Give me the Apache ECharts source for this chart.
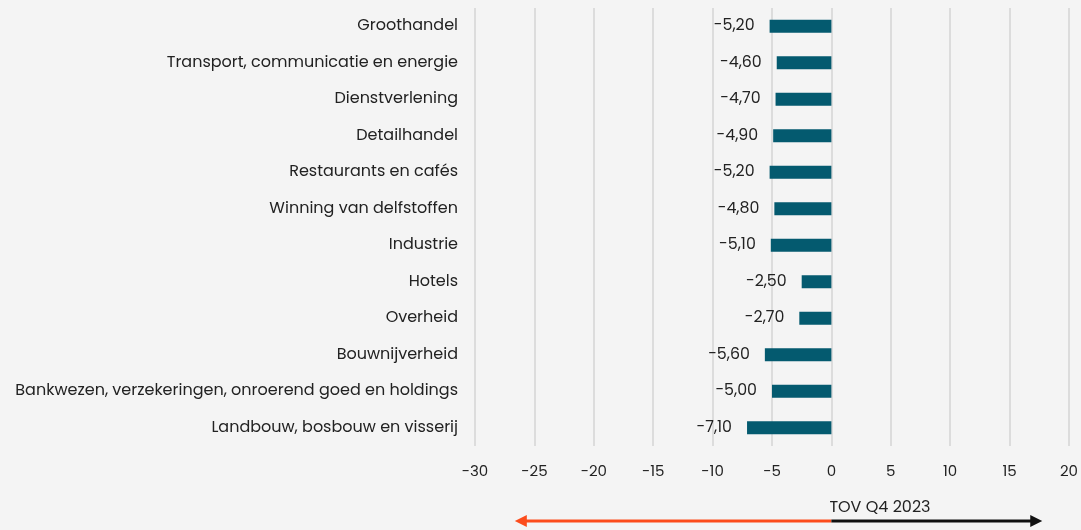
<!DOCTYPE html>
<html><head><meta charset="utf-8">
<script src="https://cdn.jsdelivr.net/npm/echarts@6/dist/echarts.min.js"></script>
<style>html,body{margin:0;padding:0;background:#f4f4f4;}#c{width:1081px;height:530px;}</style>
</head><body><div id="c"></div>
<script>
var categories = ["Groothandel","Transport, communicatie en energie","Dienstverlening","Detailhandel","Restaurants en cafés","Winning van delfstoffen","Industrie","Hotels","Overheid","Bouwnijverheid","Bankwezen, verzekeringen, onroerend goed en holdings","Landbouw, bosbouw en visserij"];
var values = [-5.2,-4.6,-4.7,-4.9,-5.2,-4.8,-5.1,-2.5,-2.7,-5.6,-5.0,-7.1];
var xTicks = [-30,-25,-20,-15,-10,-5,0,5,10,15,20];
var arrowLabel = "TOV Q4 2023";
var arrowRange = [-26.65, 0, 17.75];

var FONT = "Poppins, 'Noto Sans', sans-serif";
var chart = echarts.init(document.getElementById('c'));
chart.setOption({
  backgroundColor: '#f4f4f4',
  animation: false,
  grid: {left: 475, right: 9, top: 8, bottom: 84, containLabel: false},
  xAxis: {
    type: 'value', min: xTicks[0], max: xTicks[xTicks.length-1], interval: 5,
    axisLine: {show: false}, axisTick: {show: false},
    splitLine: {show: true, lineStyle: {color: '#dcdcdc', width: 2}},
    axisLabel: {color: '#222', fontFamily: FONT, fontSize: 15, margin: 19}
  },
  yAxis: {
    type: 'category', data: categories, inverse: true,
    axisLine: {show: false}, axisTick: {show: false},
    axisLabel: {color: '#222', fontFamily: FONT, fontSize: 16, margin: 17}
  },
  series: [{
    type: 'bar', data: values, barWidth: 13,
    itemStyle: {color: '#045a6f'},
    label: {show: true, position: 'left', distance: 15, color: '#222', fontFamily: FONT, fontSize: 15.8,
      formatter: function(p){ return p.value.toFixed(2).replace('.', ','); }}
  }]
});
function drawArrows(){
  var y = 521;
  var xl = chart.convertToPixel({xAxisIndex:0}, arrowRange[0]);
  var x0 = chart.convertToPixel({xAxisIndex:0}, arrowRange[1]);
  var xr = chart.convertToPixel({xAxisIndex:0}, arrowRange[2]);
  chart.setOption({graphic: [
    {type:'line', shape:{x1:xl+10, y1:y, x2:x0, y2:y}, style:{stroke:'#fc4c1c', lineWidth:3}},
    {type:'polygon', shape:{points:[[xl,y],[xl+12,y-6],[xl+12,y+6]]}, style:{fill:'#fc4c1c'}},
    {type:'line', shape:{x1:x0, y1:y, x2:xr-10, y2:y}, style:{stroke:'#111', lineWidth:3}},
    {type:'polygon', shape:{points:[[xr,y],[xr-12,y-6],[xr-12,y+6]]}, style:{fill:'#111'}},
    {type:'text', x:x0-2, y:508, style:{text: arrowLabel, fill:'#222', font:'16px ' + FONT, align:'left', verticalAlign:'middle'}}
  ]});
}
drawArrows();
</script></body></html>
